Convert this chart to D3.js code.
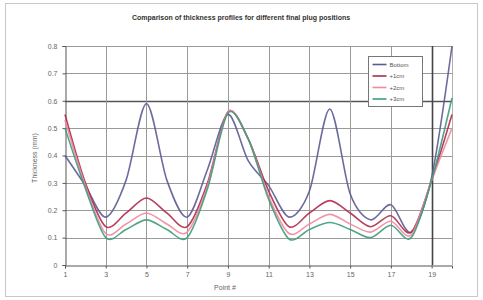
<!DOCTYPE html>
<html>
<head>
<meta charset="utf-8">
<script src="https://cdn.jsdelivr.net/npm/d3@7/dist/d3.min.js"></script>
<style>
  html, body { margin: 0; padding: 0; background: #fff; }
  svg { display: block; font-family: "Liberation Sans", Arial, sans-serif; }
</style>
</head>
<body>
<svg id="chart" width="483" height="300"></svg>
<script>
const points = d3.range(1, 21);
const xTickLabels = [1, 3, 5, 7, 9, 11, 13, 15, 17, 19];
const yTickLabels = [0, 0.1, 0.2, 0.3, 0.4, 0.5, 0.6, 0.7, 0.8];
const seriesNames = ["Bottom", "+1cm", "+2cm", "+3cm"];
const bottomVals = [0.40, 0.29, 0.175, 0.31, 0.59, 0.31, 0.175, 0.35, 0.55, 0.38, 0.29, 0.175, 0.27, 0.57, 0.26, 0.165, 0.22, 0.12, 0.32, 0.80];
const plus1Vals  = [0.55, 0.30, 0.14, 0.19, 0.245, 0.19, 0.14, 0.30, 0.56, 0.46, 0.27, 0.14, 0.19, 0.235, 0.19, 0.14, 0.18, 0.12, 0.31, 0.55];
const plus2Vals  = [0.53, 0.29, 0.115, 0.15, 0.19, 0.15, 0.12, 0.29, 0.56, 0.46, 0.25, 0.115, 0.15, 0.185, 0.15, 0.12, 0.16, 0.11, 0.31, 0.50];
const plus3Vals  = [0.50, 0.28, 0.10, 0.13, 0.165, 0.13, 0.10, 0.28, 0.555, 0.46, 0.24, 0.095, 0.13, 0.155, 0.13, 0.10, 0.145, 0.10, 0.31, 0.61];
const seriesColors = ["#5b5b95", "#b02a4c", "#f08a9c", "#3e9c7c"];

const series = [bottomVals, plus1Vals, plus2Vals, plus3Vals].map((vals, i) => ({
  name: seriesNames[i], color: seriesColors[i],
  values: vals.map((v, j) => ({ x: points[j], y: v }))
}));

const svg = d3.select("#chart");
// outer chart border
svg.append("rect").attr("x", 5.5).attr("y", 3.5).attr("width", 472).attr("height", 293)
  .attr("fill", "#fff").attr("stroke", "#c8c8c8");

const x = d3.scaleLinear().domain([1, 20]).range([65, 452]);
const y = d3.scaleLinear().domain([0, 0.8]).range([265, 46]);

// horizontal gridlines
svg.append("g").selectAll("line").data(yTickLabels.filter(d => d > 0)).join("line")
  .attr("x1", x(1)).attr("x2", x(20))
  .attr("y1", d => Math.round(y(d)) + 0.5).attr("y2", d => Math.round(y(d)) + 0.5)
  .attr("stroke", d => d === 0.6 ? "#555" : "#9a9a9a")
  .attr("stroke-width", d => d === 0.6 ? 1.6 : 1);

// vertical gridlines
svg.append("g").selectAll("line").data(xTickLabels.slice(1).concat([20])).join("line")
  .attr("y1", y(0)).attr("y2", y(0.8))
  .attr("x1", d => Math.round(x(d)) + 0.5).attr("x2", d => Math.round(x(d)) + 0.5)
  .attr("stroke", d => d === 19 ? "#444" : (d === 20 ? "#b0b0b0" : "#9a9a9a"))
  .attr("stroke-width", d => d === 19 ? 1.6 : 1);

// axes
const yAxis = d3.axisLeft(y).tickValues(yTickLabels).tickSize(3).tickPadding(5)
  .tickFormat(d => d === 0 ? "0" : d3.format(".1f")(d));
const gy = svg.append("g").attr("transform", `translate(${Math.round(x(1)) + 0.5},0)`).call(yAxis);
const xAxis = d3.axisBottom(x).tickValues(xTickLabels).tickSize(3).tickPadding(4).tickFormat(d3.format("d"));
const gx = svg.append("g").attr("transform", `translate(0,${Math.round(y(0)) + 0.5})`).call(xAxis);
[gx, gy].forEach(g => {
  g.select(".domain").attr("stroke", "#555");
  g.selectAll(".tick line").attr("stroke", "#555");
  g.selectAll(".tick text").attr("fill", "#666").attr("font-size", 7);
});

// lines
const line = d3.line().x(d => x(d.x)).y(d => y(d.y)).curve(d3.curveCardinal.tension(0.1));
svg.append("g").selectAll("path").data(series).join("path")
  .attr("d", d => line(d.values))
  .attr("fill", "none")
  .attr("stroke", d => d.color)
  .attr("stroke-width", 1.6)
  .attr("stroke-opacity", 0.9);

// title
svg.append("text").attr("x", 241).attr("y", 20).attr("text-anchor", "middle")
  .attr("font-size", 7).attr("font-weight", "bold").attr("fill", "#333")
  .text("Comparison of thickness profiles for different final plug positions");

// axis titles
svg.append("text").attr("x", 225).attr("y", 290).attr("text-anchor", "middle")
  .attr("font-size", 7).attr("fill", "#666").text("Point #");
svg.append("text").attr("transform", "translate(37,158) rotate(-90)")
  .attr("text-anchor", "middle").attr("font-size", 7).attr("fill", "#666")
  .text("Thickness (mm)");

// legend
const lg = svg.append("g").attr("transform", "translate(368.5,56.5)");
lg.append("rect").attr("width", 54).attr("height", 50).attr("fill", "#fff").attr("stroke", "#777");
series.forEach((s, i) => {
  const yy = 8 + i * 11.5;
  lg.append("line").attr("x1", 4).attr("x2", 18).attr("y1", yy).attr("y2", yy)
    .attr("stroke", s.color).attr("stroke-width", 1.6);
  lg.append("text").attr("x", 21).attr("y", yy + 2.3).attr("font-size", 6)
    .attr("fill", "#555").text(s.name);
});
</script>
</body>
</html>
